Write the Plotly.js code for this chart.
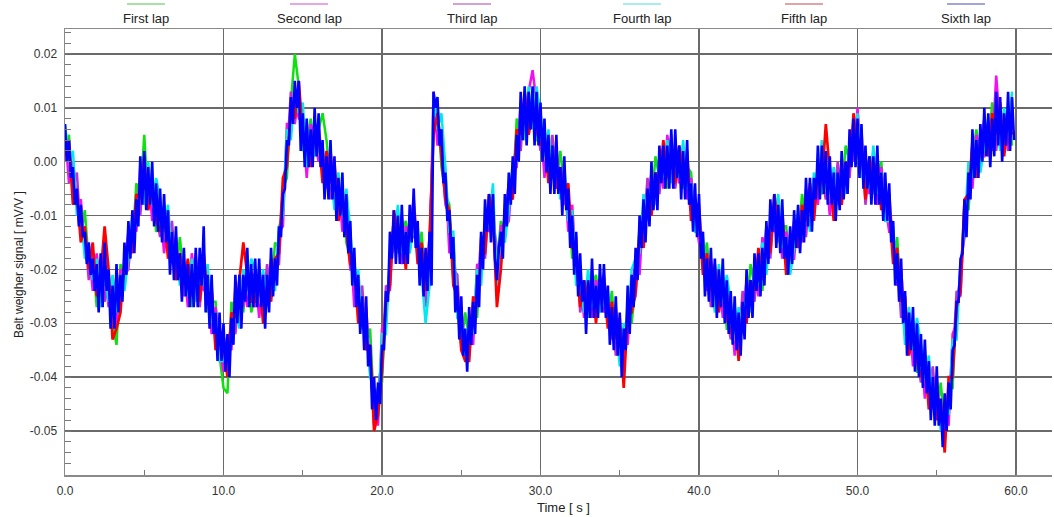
<!DOCTYPE html>
<html><head><meta charset="utf-8">
<script src="https://cdn.plot.ly/plotly-3.0.1.min.js"></script>
<style>html,body{margin:0;padding:0;background:#fff;}#chart{width:1054px;height:517px;}</style>
</head><body><div id="chart"></div>
<script>
// Sample intervals of the recorded belt weigher signal [s]
const timeStep = 0.25;      // laps 1-5
const timeStepFine = 0.125; // lap 6 (drawn on top)

const lapNames = ["First lap", "Second lap", "Third lap", "Fourth lap", "Fifth lap", "Sixth lap"];
const lapColors = ["#10e010", "#f010f0", "#c030d0", "#00e8f0", "#ff0000", "#0000ff"];
const legendColors = ["#a8e0a8", "#e4a8e4", "#d6a0d6", "#a8ecec", "#e0a4a4", "#a4a4dc"];

const xTickVals = [0, 10, 20, 30, 40, 50, 60];
const xTickText = ["0.0", "10.0", "20.0", "30.0", "40.0", "50.0", "60.0"];
const yTickVals = [0.02, 0.01, 0.0, -0.01, -0.02, -0.03, -0.04, -0.05];
const yTickText = ["0.02", "0.01", "0.00", "-0.01", "-0.02", "-0.03", "-0.04", "-0.05"];

const lap1 = [
0.002,0.005,-0.007,-0.005,-0.014,-0.009,-0.019,-0.017,
-0.027,-0.020,-0.023,-0.021,-0.030,-0.034,-0.019,-0.023,
-0.014,-0.016,-0.004,-0.007,0.005,-0.008,-0.003,-0.013,
-0.012,-0.008,-0.017,-0.014,-0.021,-0.014,-0.022,-0.020,
-0.027,-0.019,-0.024,-0.018,-0.028,-0.026,-0.026,-0.036,
-0.042,-0.043,-0.026,-0.029,-0.024,-0.028,-0.019,-0.028,
-0.025,-0.020,-0.029,-0.022,-0.025,-0.015,-0.016,-0.005,
-0.003,0.011,0.020,0.014,0.002,0.003,0.008,0.002,
0.006,0.009,0.004,-0.004,-0.002,-0.010,-0.005,-0.015,
-0.018,-0.018,-0.029,-0.026,-0.034,-0.031,-0.046,-0.042,
-0.041,-0.025,-0.021,-0.010,-0.017,-0.013,-0.011,-0.016,
-0.008,-0.018,-0.013,-0.024,-0.016,0.006,0.011,-0.001,
-0.006,-0.008,-0.022,-0.024,-0.034,-0.028,-0.033,-0.027,
-0.029,-0.016,-0.015,-0.007,-0.013,-0.019,-0.011,-0.014,
-0.005,-0.006,0.008,0.005,0.011,0.006,0.011,0.004,
0.004,0.006,-0.003,0.002,-0.004,0.002,-0.005,-0.006,
-0.018,-0.016,-0.025,-0.023,-0.029,-0.023,-0.021,-0.027,
-0.022,-0.030,-0.024,-0.033,-0.031,-0.038,-0.026,-0.030,
-0.023,-0.012,-0.015,-0.006,-0.009,0.001,-0.003,0.002,
-0.005,0.003,-0.002,0.002,-0.005,-0.001,-0.002,-0.012,
-0.009,-0.020,-0.015,-0.024,-0.021,-0.027,-0.021,-0.031,
-0.031,-0.027,-0.036,-0.027,-0.029,-0.019,-0.023,-0.018,
-0.024,-0.014,-0.015,-0.007,-0.015,-0.012,-0.012,-0.020,
-0.012,-0.015,-0.006,-0.011,-0.006,-0.010,0.000,-0.006,
-0.005,-0.001,-0.010,-0.003,-0.007,0.003,0.000,0.007,
0.000,0.004,-0.005,0.000,-0.006,-0.002,0.000,-0.010,
-0.007,-0.018,-0.014,-0.026,-0.027,-0.035,-0.030,-0.039,
-0.039,-0.035,-0.045,-0.041,-0.047,-0.041,-0.049,-0.042,
-0.042,-0.026,-0.022,-0.008,-0.009,0.001,0.006,-0.001,
0.007,0.002,0.011,0.005,0.009,0.002,0.010,0.003];

const lap2 = [
0.006,-0.004,0.000,-0.008,-0.007,-0.017,-0.016,-0.024,
-0.017,-0.024,-0.020,-0.027,-0.024,-0.030,-0.020,-0.021,
-0.020,-0.011,-0.013,-0.001,-0.004,-0.001,-0.011,-0.006,
-0.008,-0.017,-0.010,-0.017,-0.014,-0.022,-0.019,-0.027,
-0.017,-0.023,-0.021,-0.024,-0.022,-0.032,-0.027,-0.034,
-0.039,-0.034,-0.035,-0.023,-0.027,-0.021,-0.027,-0.021,
-0.021,-0.029,-0.022,-0.025,-0.018,-0.023,-0.013,-0.012,
0.007,0.007,0.013,0.008,0.008,-0.003,0.007,0.004,
0.000,0.002,-0.005,0.002,-0.005,-0.003,-0.013,-0.008,
-0.014,-0.027,-0.022,-0.029,-0.027,-0.039,-0.043,-0.049,
-0.031,-0.029,-0.018,-0.016,-0.011,-0.019,-0.012,-0.014,
-0.014,-0.013,-0.022,-0.018,-0.019,0.013,0.003,0.006,
-0.002,-0.017,-0.015,-0.027,-0.027,-0.036,-0.030,-0.034,
-0.019,-0.020,-0.012,-0.013,-0.007,-0.025,-0.012,-0.012,
-0.011,-0.001,-0.001,0.011,0.008,0.013,0.017,0.011,
0.008,-0.003,0.004,-0.001,0.003,-0.006,-0.002,-0.013,
-0.008,-0.020,-0.022,-0.029,-0.023,-0.029,-0.022,-0.025,
-0.028,-0.025,-0.033,-0.027,-0.034,-0.031,-0.034,-0.023,
-0.019,-0.021,-0.008,-0.009,-0.002,-0.007,0.000,-0.005,
0.005,-0.001,0.001,-0.004,0.001,-0.007,-0.003,-0.010,
-0.015,-0.015,-0.024,-0.018,-0.024,-0.020,-0.029,-0.024,
-0.027,-0.036,-0.029,-0.030,-0.022,-0.027,-0.020,-0.025,
-0.014,-0.018,-0.012,-0.013,-0.009,-0.018,-0.013,-0.018,
-0.018,-0.010,-0.015,-0.005,-0.009,-0.003,-0.008,0.001,
-0.001,-0.010,-0.003,-0.006,0.000,-0.005,0.003,0.000,
0.010,0.000,-0.002,-0.006,0.000,-0.008,-0.001,-0.008,
-0.013,-0.013,-0.023,-0.020,-0.030,-0.028,-0.038,-0.032,
-0.035,-0.044,-0.038,-0.044,-0.040,-0.049,-0.046,-0.049,
-0.032,-0.030,-0.019,-0.014,-0.003,-0.005,0.005,0.001,
0.001,0.007,0.002,0.016,0.006,0.009,0.002,0.010];

const lap3 = [
0.000,0.003,-0.005,-0.002,-0.014,-0.013,-0.022,-0.017,
-0.023,-0.018,-0.026,-0.022,-0.028,-0.021,-0.026,-0.019,
-0.013,-0.014,-0.007,-0.010,0.000,-0.007,-0.005,-0.010,
-0.014,-0.010,-0.015,-0.011,-0.021,-0.018,-0.025,-0.020,
-0.023,-0.017,-0.027,-0.019,-0.026,-0.023,-0.033,-0.032,
-0.032,-0.037,-0.029,-0.032,-0.023,-0.027,-0.021,-0.025,
-0.027,-0.022,-0.027,-0.019,-0.025,-0.019,-0.019,-0.005,
0.001,0.013,0.007,0.013,0.004,0.006,0.001,0.006,
0.007,-0.001,0.001,-0.007,-0.001,-0.009,-0.007,-0.012,
-0.020,-0.020,-0.027,-0.023,-0.034,-0.035,-0.049,-0.042,
-0.037,-0.023,-0.024,-0.011,-0.015,-0.010,-0.018,-0.012,
-0.007,-0.016,-0.016,-0.027,-0.015,0.007,0.009,0.002,
-0.008,-0.010,-0.020,-0.021,-0.034,-0.032,-0.036,-0.027,
-0.025,-0.014,-0.018,-0.008,-0.011,-0.016,-0.018,-0.010,
-0.004,-0.004,0.005,0.002,0.012,0.007,0.009,0.007,
0.002,0.004,-0.001,0.005,-0.004,-0.002,-0.008,-0.006,
-0.014,-0.014,-0.028,-0.024,-0.027,-0.020,-0.028,-0.023,
-0.021,-0.028,-0.027,-0.036,-0.030,-0.037,-0.028,-0.027,
-0.025,-0.014,-0.013,-0.003,-0.009,-0.003,-0.006,0.002,
-0.001,0.005,-0.005,0.001,-0.003,0.002,-0.009,-0.008,
-0.008,-0.018,-0.018,-0.027,-0.020,-0.026,-0.023,-0.028,
-0.033,-0.029,-0.034,-0.024,-0.029,-0.023,-0.026,-0.018,
-0.020,-0.012,-0.018,-0.008,-0.013,-0.009,-0.019,-0.016,
-0.011,-0.013,-0.009,-0.014,-0.005,-0.009,-0.002,-0.003,
-0.007,-0.003,-0.008,0.000,-0.007,-0.001,-0.003,0.007,
0.004,0.006,-0.008,-0.001,-0.004,0.001,-0.007,-0.006,
-0.006,-0.016,-0.017,-0.029,-0.026,-0.034,-0.032,-0.036,
-0.041,-0.037,-0.043,-0.038,-0.047,-0.045,-0.052,-0.042,
-0.038,-0.024,-0.025,-0.009,-0.007,0.004,-0.001,0.003,
0.008,0.004,0.008,0.002,0.010,0.003,0.008,0.006];

const lap4 = [
0.007,0.000,0.002,-0.010,-0.009,-0.018,-0.015,-0.022,
-0.018,-0.027,-0.020,-0.026,-0.021,-0.028,-0.021,-0.024,
-0.018,-0.010,-0.012,-0.004,-0.008,0.000,-0.008,-0.003,
-0.007,-0.013,-0.008,-0.019,-0.016,-0.023,-0.018,-0.025,
-0.018,-0.026,-0.021,-0.023,-0.019,-0.030,-0.028,-0.037,
-0.037,-0.033,-0.034,-0.026,-0.031,-0.020,-0.024,-0.018,
-0.020,-0.025,-0.020,-0.027,-0.020,-0.024,-0.012,-0.010,
0.006,0.004,0.013,0.009,0.011,-0.001,0.006,0.001,
0.002,0.003,-0.004,-0.001,-0.009,-0.002,-0.010,-0.005,
-0.013,-0.023,-0.020,-0.031,-0.029,-0.040,-0.042,-0.047,
-0.032,-0.032,-0.018,-0.015,-0.008,-0.017,-0.013,-0.017,
-0.012,-0.012,-0.021,-0.030,-0.023,0.012,0.006,0.009,
-0.001,-0.013,-0.013,-0.029,-0.029,-0.037,-0.029,-0.032,
-0.020,-0.023,-0.012,-0.012,-0.004,-0.023,-0.013,-0.015,
-0.009,0.000,0.000,0.008,0.004,0.014,0.006,0.014,
0.009,0.001,0.006,-0.003,0.001,-0.007,-0.001,-0.011,
-0.009,-0.023,-0.022,-0.028,-0.020,-0.027,-0.023,-0.028,
-0.026,-0.024,-0.032,-0.030,-0.038,-0.030,-0.031,-0.020,
-0.018,-0.017,-0.006,-0.011,-0.004,-0.008,0.001,-0.003,
0.004,-0.004,0.001,-0.003,0.004,-0.005,-0.004,-0.013,
-0.013,-0.014,-0.023,-0.021,-0.028,-0.019,-0.026,-0.021,
-0.026,-0.032,-0.027,-0.032,-0.024,-0.028,-0.019,-0.023,
-0.015,-0.021,-0.012,-0.012,-0.006,-0.016,-0.014,-0.021,
-0.016,-0.009,-0.014,-0.008,-0.013,-0.002,-0.005,0.004,
0.000,-0.006,-0.001,-0.008,-0.002,-0.006,0.004,0.002,
0.009,-0.003,-0.002,-0.005,0.003,-0.006,-0.002,-0.011,
-0.011,-0.012,-0.022,-0.023,-0.034,-0.027,-0.035,-0.029,
-0.034,-0.040,-0.036,-0.046,-0.042,-0.050,-0.045,-0.047,
-0.033,-0.033,-0.019,-0.013,0.000,-0.003,0.004,-0.002,
0.003,0.008,0.003,0.008,0.002,0.010,0.005,0.013];

const lap5 = [
0.001,0.004,-0.008,-0.006,-0.015,-0.012,-0.020,-0.015,
-0.025,-0.021,-0.012,-0.020,-0.033,-0.031,-0.028,-0.018,
-0.015,-0.017,-0.006,-0.007,0.001,-0.009,-0.005,-0.011,
-0.013,-0.009,-0.018,-0.015,-0.022,-0.017,-0.023,-0.018,
-0.025,-0.020,-0.026,-0.017,-0.025,-0.024,-0.035,-0.031,
-0.034,-0.040,-0.028,-0.029,-0.022,-0.015,-0.021,-0.026,
-0.026,-0.021,-0.030,-0.023,-0.026,-0.018,-0.017,-0.003,
-0.001,0.010,0.008,0.015,0.005,0.005,-0.001,0.007,
0.005,-0.004,0.002,-0.004,0.000,-0.011,-0.007,-0.013,
-0.019,-0.019,-0.030,-0.027,-0.035,-0.034,-0.050,-0.047,
-0.039,-0.026,-0.023,-0.009,-0.014,-0.011,-0.020,-0.011,
-0.009,-0.019,-0.015,-0.024,-0.014,0.005,0.009,0.001,
-0.007,-0.009,-0.023,-0.025,-0.035,-0.037,-0.037,-0.025,
-0.027,-0.017,-0.017,-0.006,-0.010,-0.027,-0.020,-0.009,
-0.006,-0.007,0.006,0.005,0.013,0.005,0.009,0.006,
0.003,0.005,-0.004,0.001,-0.005,-0.001,-0.006,-0.004,
-0.016,-0.017,-0.027,-0.022,-0.026,-0.021,-0.030,-0.022,
-0.023,-0.031,-0.026,-0.033,-0.029,-0.042,-0.028,-0.028,
-0.024,-0.013,-0.016,-0.007,-0.010,-0.002,-0.004,0.004,
-0.003,0.002,-0.004,0.003,-0.002,0.001,-0.011,-0.007,
-0.010,-0.021,-0.017,-0.024,-0.019,-0.028,-0.023,-0.029,
-0.032,-0.028,-0.037,-0.028,-0.030,-0.022,-0.024,-0.016,
-0.022,-0.015,-0.017,-0.006,-0.012,-0.010,-0.021,-0.015,
-0.013,-0.016,-0.008,-0.011,-0.004,-0.011,-0.002,-0.004,
0.007,-0.002,-0.011,-0.004,-0.008,0.000,-0.001,0.009,
0.002,0.003,-0.007,0.001,-0.003,0.000,-0.009,-0.005,
-0.008,-0.019,-0.016,-0.026,-0.025,-0.036,-0.032,-0.037,
-0.040,-0.036,-0.046,-0.042,-0.048,-0.044,-0.054,-0.040,
-0.040,-0.027,-0.024,-0.007,-0.006,0.003,-0.003,0.004,
0.006,0.001,0.009,0.005,0.011,0.001,0.008,0.005];

// sixth lap, sampled twice as densely (one row = 2 s)
const lap6 = [
0.007,0.000,0.004,-0.003,-0.001,-0.008,-0.005,-0.012,-0.008,-0.014,-0.013,-0.019,-0.015,-0.021,-0.018,-0.024,
-0.019,-0.028,-0.017,-0.027,-0.015,-0.024,-0.020,-0.031,-0.023,-0.031,-0.019,-0.028,-0.021,-0.026,-0.015,-0.021,
-0.011,-0.018,-0.009,-0.017,-0.007,-0.012,0.001,-0.008,0.002,-0.009,-0.001,-0.008,0.000,-0.012,-0.004,-0.013,
-0.005,-0.015,-0.006,-0.015,-0.009,-0.021,-0.013,-0.022,-0.012,-0.022,-0.017,-0.026,-0.016,-0.025,-0.019,-0.027,
-0.019,-0.027,-0.016,-0.027,-0.016,-0.023,-0.012,-0.028,-0.021,-0.031,-0.021,-0.032,-0.028,-0.037,-0.028,-0.037,
-0.030,-0.039,-0.032,-0.040,-0.029,-0.034,-0.021,-0.030,-0.021,-0.031,-0.021,-0.026,-0.016,-0.027,-0.019,-0.027,
-0.018,-0.027,-0.018,-0.027,-0.021,-0.031,-0.021,-0.028,-0.016,-0.025,-0.018,-0.023,-0.012,-0.014,-0.006,-0.005,
0.004,0.003,0.012,0.007,0.015,0.010,0.015,0.002,0.009,-0.001,0.008,-0.001,0.006,-0.001,0.010,0.001,
0.009,-0.001,0.004,-0.007,0.001,-0.007,0.004,-0.007,0.001,-0.011,-0.003,-0.010,-0.002,-0.014,-0.006,-0.017,
-0.011,-0.023,-0.016,-0.027,-0.021,-0.032,-0.025,-0.035,-0.025,-0.038,-0.034,-0.046,-0.040,-0.048,-0.041,-0.045,
-0.034,-0.035,-0.024,-0.026,-0.013,-0.018,-0.009,-0.019,-0.010,-0.019,-0.008,-0.019,-0.013,-0.019,-0.008,-0.015,
-0.005,-0.016,-0.011,-0.023,-0.016,-0.025,-0.016,-0.024,-0.013,-0.023,0.013,0.010,0.012,0.003,0.006,-0.004,
-0.002,-0.011,-0.009,-0.018,-0.014,-0.028,-0.023,-0.033,-0.025,-0.036,-0.031,-0.039,-0.027,-0.034,-0.026,-0.032,
-0.021,-0.027,-0.013,-0.020,-0.007,-0.013,-0.006,-0.015,-0.006,-0.018,-0.022,-0.016,-0.013,-0.018,-0.006,-0.012,
-0.002,-0.008,0.001,-0.006,0.005,0.000,0.013,0.004,0.014,0.003,0.013,0.006,0.014,0.003,0.013,0.003,
0.011,0.000,0.008,-0.002,0.005,-0.006,0.003,-0.006,0.005,-0.006,-0.001,-0.010,0.001,-0.009,-0.005,-0.016,
-0.010,-0.021,-0.013,-0.025,-0.017,-0.026,-0.022,-0.032,-0.022,-0.029,-0.018,-0.029,-0.023,-0.029,-0.019,-0.028,
-0.019,-0.029,-0.023,-0.034,-0.027,-0.035,-0.025,-0.036,-0.028,-0.040,-0.031,-0.035,-0.023,-0.032,-0.021,-0.027,
-0.016,-0.022,-0.010,-0.016,-0.007,-0.015,-0.005,-0.012,0.000,-0.009,-0.002,-0.009,0.003,-0.004,0.003,-0.005,
0.003,-0.005,0.006,-0.005,0.006,-0.003,0.003,-0.007,0.002,-0.007,0.004,-0.008,-0.004,-0.013,-0.004,-0.014,
-0.006,-0.018,-0.013,-0.025,-0.018,-0.026,-0.016,-0.027,-0.018,-0.029,-0.020,-0.027,-0.018,-0.030,-0.022,-0.032,
-0.024,-0.034,-0.025,-0.035,-0.028,-0.036,-0.026,-0.033,-0.020,-0.029,-0.022,-0.029,-0.017,-0.024,-0.017,-0.025,
-0.016,-0.023,-0.011,-0.019,-0.007,-0.013,-0.006,-0.016,-0.008,-0.017,-0.007,-0.018,-0.014,-0.021,-0.012,-0.019,
-0.009,-0.016,-0.008,-0.017,-0.009,-0.015,-0.003,-0.012,-0.003,-0.013,-0.003,-0.007,0.003,-0.007,0.003,-0.006,
0.002,-0.008,0.001,-0.008,-0.002,-0.011,-0.002,-0.009,0.002,-0.007,0.000,-0.006,0.006,-0.001,0.008,-0.001,
0.008,-0.003,0.007,-0.005,0.003,-0.005,0.001,-0.008,0.001,-0.008,0.003,-0.008,-0.002,-0.011,-0.002,-0.011,
-0.004,-0.015,-0.011,-0.023,-0.017,-0.026,-0.018,-0.030,-0.024,-0.036,-0.028,-0.035,-0.027,-0.039,-0.030,-0.040,
-0.032,-0.042,-0.033,-0.043,-0.037,-0.048,-0.040,-0.049,-0.038,-0.049,-0.044,-0.053,-0.043,-0.050,-0.041,-0.046,
-0.035,-0.034,-0.026,-0.026,-0.018,-0.017,-0.007,-0.014,-0.002,-0.007,0.006,-0.003,0.004,-0.003,0.007,0.000,
0.010,0.001,0.009,-0.001,0.008,0.001,0.013,0.003,0.012,0.000,0.009,0.003,0.013,0.002,0.012,0.004];

const laps = [lap1, lap2, lap3, lap4, lap5, lap6];
const lapSteps = [timeStep, timeStep, timeStep, timeStep, timeStep, timeStepFine];
const lapWidths = [2.5, 2.5, 2.5, 2.5, 2.7, 2.6];

const traces = laps.map((vals, k) => ({
  x: vals.map((_, i) => i * lapSteps[k]), y: vals,
  type: 'scatter', mode: 'lines', name: lapNames[k],
  line: {color: lapColors[k], width: lapWidths[k]}, hoverinfo: 'skip'
}));

// legend (sample line above each name), positioned in pixel-derived paper coordinates
const plotL = 65, plotW = 987, plotB = 475, plotH = 446;
const legendCenters = [146, 309, 472, 642, 804, 966];
const px2x = p => (p - plotL) / plotW;
const py2y = p => (plotB - p) / plotH;

const annotations = lapNames.map((n, k) => ({
  text: n, xref: 'paper', yref: 'paper', x: px2x(legendCenters[k]), y: py2y(18),
  xanchor: 'center', yanchor: 'middle', showarrow: false,
  font: {family: 'Liberation Sans, Arial, sans-serif', size: 13, color: '#222'}
}));
annotations.push({
  text: 'Time [ s ]', xref: 'paper', yref: 'paper', x: px2x(563), y: py2y(507),
  xanchor: 'center', yanchor: 'middle', showarrow: false,
  font: {family: 'Liberation Sans Narrow, Liberation Sans, Arial, sans-serif', size: 13, color: '#222'}
});
annotations.push({
  text: 'Belt weigher signal [ mV/V ]', xref: 'paper', yref: 'paper', x: px2x(19), y: py2y(265),
  xanchor: 'center', yanchor: 'middle', showarrow: false, textangle: -90,
  font: {family: 'Liberation Sans, Arial, sans-serif', size: 12, color: '#222'}
});

const shapes = lapNames.map((n, k) => ({
  type: 'line', xref: 'paper', yref: 'paper',
  x0: px2x(legendCenters[k] - 19), x1: px2x(legendCenters[k] + 19),
  y0: py2y(4), y1: py2y(4),
  line: {color: legendColors[k], width: 2}
}));

const gridCol = '#6a6a6a';
const layout = {
  width: 1054, height: 517,
  margin: {l: 65, r: 2, t: 29, b: 42},
  paper_bgcolor: '#ffffff', plot_bgcolor: '#ffffff',
  showlegend: false,
  font: {family: 'Liberation Sans, Arial, sans-serif', size: 12, color: '#333'},
  xaxis: {
    range: [0, 62.27], tickmode: 'array', tickvals: xTickVals, ticktext: xTickText,
    showgrid: true, gridcolor: gridCol, gridwidth: 1.4, zeroline: false,
    showline: true, linecolor: '#8a8a8a', linewidth: 1.5, mirror: true,
    ticks: 'inside', ticklen: 5, tickcolor: '#777', ticklabelstandoff: 4,
    tickfont: {family: 'Liberation Sans Narrow, Liberation Sans, Arial, sans-serif', size: 12, color: '#333'},
    minor: {tick0: 0, dtick: 5, ticks: 'inside', ticklen: 5, tickcolor: '#777', showgrid: false}
  },
  yaxis: {
    range: [-0.05817, 0.02464], tickmode: 'array', tickvals: yTickVals, ticktext: yTickText,
    showgrid: true, gridcolor: gridCol, gridwidth: 1.4, zeroline: false,
    showline: true, linecolor: '#8a8a8a', linewidth: 1.5,
    ticks: 'inside', ticklen: 6, tickcolor: '#777', ticklabelstandoff: 4,
    tickfont: {family: 'Liberation Sans, Arial, sans-serif', size: 12, color: '#333'},
    minor: {tick0: 0, dtick: 0.002, ticks: 'inside', ticklen: 6, tickcolor: '#777', showgrid: false}
  },
  annotations: annotations,
  shapes: shapes
};

Plotly.newPlot('chart', traces, layout, {displayModeBar: false, staticPlot: true});
</script>
</body></html>
